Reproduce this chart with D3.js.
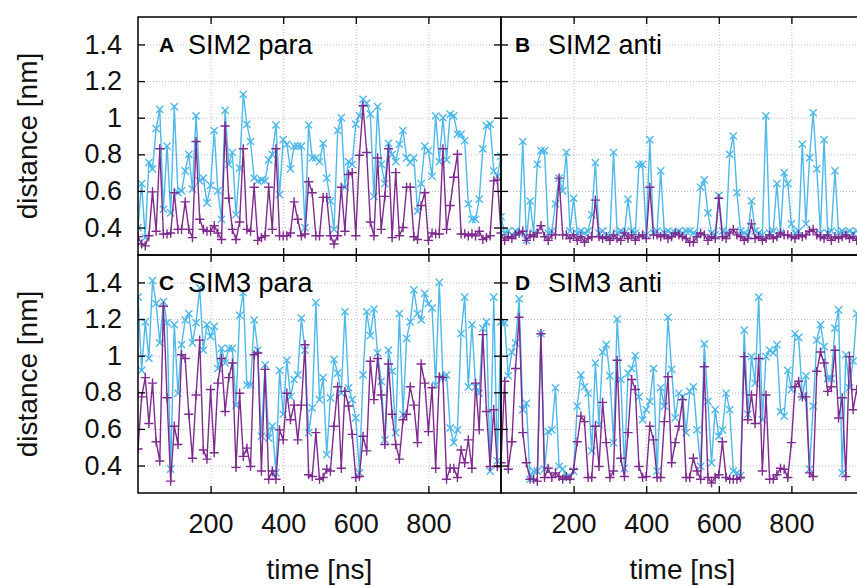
<!DOCTYPE html>
<html>
<head>
<meta charset="utf-8">
<script src="https://cdn.jsdelivr.net/npm/d3@7"></script>
<style>
body { margin: 0; background: #fff; }
text { font-family: "Liberation Sans", Arial, sans-serif; }
</style>
</head>
<body>
<script>
// time axis of every run [ns]
const time = [
  0, 10, 20, 30, 40, 50, 60, 70, 80, 90,
  100, 110, 120, 130, 140, 150, 160, 170, 180, 190,
  200, 210, 220, 230, 240, 250, 260, 270, 280, 290,
  300, 310, 320, 330, 340, 350, 360, 370, 380, 390,
  400, 410, 420, 430, 440, 450, 460, 470, 480, 490,
  500, 510, 520, 530, 540, 550, 560, 570, 580, 590,
  600, 610, 620, 630, 640, 650, 660, 670, 680, 690,
  700, 710, 720, 730, 740, 750, 760, 770, 780, 790,
  800, 810, 820, 830, 840, 850, 860, 870, 880, 890,
  900, 910, 920, 930, 940, 950, 960, 970, 980, 990,
  1000
];

// A: SIM2 para
const sim2ParaPlus = [
  0.35, 0.31, 0.30, 0.355, 0.595, 0.38, 0.83, 0.365, 0.365, 0.37,
  0.59, 0.39, 0.39, 0.54, 0.39, 0.345, 0.87, 0.445, 0.39, 0.38,
  0.38, 0.41, 0.37, 0.335, 0.955, 0.56, 0.39, 0.335, 0.43, 0.83,
  0.39, 0.38, 0.62, 0.33, 0.345, 0.355, 0.62, 0.39, 0.83, 0.355,
  0.355, 0.355, 0.37, 0.54, 0.445, 0.355, 0.365, 0.65, 0.59, 0.355,
  0.355, 0.565, 0.565, 0.355, 0.31, 0.355, 0.62, 0.38, 0.69, 0.70,
  0.355, 0.795, 1.065, 0.81, 0.43, 0.355, 0.78, 0.39, 0.57, 0.83,
  0.345, 0.70, 0.355, 0.40, 0.62, 0.62, 0.35, 0.335, 0.52, 0.59,
  0.33, 0.37, 0.365, 0.365, 0.83, 0.39, 0.52, 0.675, 0.80, 0.365,
  0.365, 0.355, 0.365, 0.355, 0.38, 0.335, 0.345, 0.355, 0.655, 0.66,
  0.37
];
const sim2ParaCross = [
  0.40, 0.64, 0.345, 0.755, 0.72, 0.94, 1.045, 0.50, 0.845, 0.48,
  1.06, 0.59, 0.60, 0.71, 0.80, 0.61, 1.01, 0.655, 0.67, 0.535,
  0.63, 0.93, 0.60, 0.445, 1.04, 0.745, 0.81, 0.47, 0.725, 1.127,
  0.964, 0.87, 0.67, 0.655, 0.66, 0.655, 0.77, 0.80, 0.96, 0.58,
  0.88, 0.855, 0.72, 0.845, 0.845, 0.845, 0.40, 0.96, 0.78, 0.78,
  0.76, 0.86, 0.67, 0.545, 0.39, 0.93, 1.0, 0.62, 0.76, 0.745,
  0.965, 1.01, 1.10, 1.08, 1.02, 0.57, 1.06, 0.745, 0.64, 0.86,
  0.80, 0.76, 0.855, 0.93, 0.78, 0.755, 0.78, 0.49, 0.64, 0.845,
  0.82, 0.68, 1.01, 0.76, 1.0, 0.77, 1.02, 1.01, 0.91, 0.91,
  0.875, 0.53, 0.445, 0.445, 0.555, 0.83, 0.955, 0.965, 0.71, 0.68,
  0.79
];

// B: SIM2 anti
const sim2AntiPlus = [
  0.36, 0.33, 0.35, 0.34, 0.36, 0.37, 0.38, 0.33, 0.36, 0.35,
  0.37, 0.41, 0.35, 0.33, 0.36, 0.36, 0.67, 0.36, 0.36, 0.34,
  0.36, 0.33, 0.35, 0.32, 0.34, 0.35, 0.55, 0.35, 0.34, 0.35,
  0.33, 0.36, 0.34, 0.33, 0.37, 0.34, 0.36, 0.33, 0.35, 0.36,
  0.34, 0.62, 0.36, 0.36, 0.35, 0.36, 0.34, 0.35, 0.37, 0.36,
  0.35, 0.34, 0.32, 0.32, 0.35, 0.37, 0.36, 0.33, 0.35, 0.34,
  0.56, 0.35, 0.34, 0.37, 0.39, 0.36, 0.35, 0.33, 0.34, 0.42,
  0.34, 0.35, 0.33, 0.34, 0.36, 0.34, 0.35, 0.37, 0.36, 0.36,
  0.35, 0.34, 0.36, 0.35, 0.36, 0.38, 0.39, 0.36, 0.35, 0.34,
  0.36, 0.33, 0.35, 0.34, 0.35, 0.36, 0.34, 0.35, 0.33
];
const sim2AntiCross = [
  0.46, 0.37, 0.38, 0.36, 0.38, 0.37, 0.87, 0.33, 0.545, 0.37,
  0.745, 0.82, 0.82, 0.37, 0.38, 0.53, 0.67, 0.60, 0.81, 0.38,
  0.56, 0.37, 0.38, 0.37, 0.38, 0.47, 0.755, 0.37, 0.38, 0.36,
  0.35, 0.81, 0.37, 0.38, 0.37, 0.555, 0.38, 0.37, 0.745, 0.745,
  0.36, 0.88, 0.37, 0.38, 0.71, 0.37, 0.38, 0.37, 0.37, 0.38,
  0.37, 0.38, 0.38, 0.37, 0.36, 0.62, 0.66, 0.48, 0.37, 0.36,
  0.575, 0.38, 0.37, 0.80, 0.90, 0.59, 0.38, 0.37, 0.36, 0.545,
  0.38, 0.37, 0.36, 1.01, 0.37, 0.38, 0.64, 0.37, 0.70, 0.64,
  0.42, 0.37, 0.38, 0.855, 0.42, 0.78, 1.027, 0.72, 0.37, 0.88,
  0.37, 0.38, 0.71, 0.37, 0.38, 0.37, 0.38, 0.37, 0.38
];

// C: SIM3 para
const sim3ParaPlus = [
  0.49, 0.775, 0.88, 0.63, 0.85, 0.53, 0.425, 1.27, 0.77, 0.315,
  0.615, 0.515, 1.005, 0.985, 0.68, 0.44, 0.785, 1.085, 0.485, 0.435,
  0.815, 0.47, 0.85, 0.985, 0.695, 0.88, 0.96, 0.39, 0.795, 0.45,
  0.495, 0.395, 1.005, 1.015, 0.37, 0.925, 0.325, 0.37, 0.325, 0.595,
  0.54, 0.795, 0.65, 0.73, 0.54, 0.73, 1.06, 0.35, 0.34, 0.58,
  0.325, 0.335, 0.38, 0.37, 0.615, 0.83, 0.385, 0.805, 0.725, 0.57,
  0.335, 0.34, 0.56, 0.48, 0.97, 0.76, 0.985, 0.785, 0.515, 0.955,
  0.68, 0.515, 0.435, 0.65, 0.68, 0.83, 0.73, 0.525, 0.955, 0.85,
  0.585, 0.825, 0.385, 0.885, 0.88, 0.325, 0.385, 0.385, 0.335, 0.485,
  0.415, 0.54, 0.385, 0.85, 0.595, 1.115, 0.695, 0.395, 0.705, 0.395,
  0.395
];
const sim3ParaCross = [
  1.32, 0.92, 1.185, 0.985, 1.41, 1.285, 1.07, 1.295, 1.18, 0.38,
  1.17, 0.795, 1.06, 1.195, 1.23, 1.07, 1.18, 1.37, 1.03, 1.17,
  1.105, 1.16, 0.93, 1.04, 0.96, 1.04, 1.04, 0.73, 1.22, 1.345,
  0.84, 0.84, 1.195, 1.03, 0.56, 0.95, 0.55, 0.615, 0.36, 0.92,
  0.68, 0.975, 0.775, 0.87, 0.895, 1.205, 1.03, 0.58, 0.715, 1.29,
  0.76, 0.88, 0.46, 0.77, 0.98, 0.905, 0.795, 1.24, 0.825, 0.76,
  0.66, 0.36, 0.895, 1.24, 1.11, 1.255, 1.015, 0.86, 0.54, 1.03,
  0.915, 0.58, 1.23, 0.68, 1.095, 1.185, 1.36, 1.23, 1.195, 1.34,
  1.285, 1.26, 0.84, 1.40, 0.88, 0.895, 0.605, 0.525, 0.595, 1.12,
  1.32, 0.83, 1.17, 0.83, 0.795, 1.15, 1.185, 0.37, 1.32, 0.425,
  1.185
];

// D: SIM3 anti
const sim3AntiPlus = [
  0.415, 0.86, 0.38, 0.53, 0.93, 1.21, 0.58, 0.415, 0.325, 0.325,
  0.315, 1.12, 0.335, 0.385, 0.335, 0.36, 0.34, 0.325, 0.34, 0.325,
  0.38, 0.53, 0.67, 0.64, 0.335, 0.335, 0.615, 0.395, 0.745, 0.525,
  0.335, 0.37, 0.975, 0.44, 0.34, 0.58, 0.87, 0.815, 0.395, 0.335,
  0.34, 0.615, 0.54, 0.335, 0.335, 0.64, 0.885, 0.415, 0.525, 0.615,
  0.76, 0.335, 0.335, 0.44, 0.37, 0.325, 0.94, 0.335, 0.305, 0.335,
  0.35, 0.53, 0.335, 0.325, 0.325, 0.325, 0.335, 0.995, 0.65, 0.785,
  0.63, 0.985, 0.37, 0.785, 0.325, 0.325, 0.35, 0.385, 0.38, 0.335,
  0.525, 0.83, 0.86, 0.775, 0.775, 0.36, 0.34, 0.915, 1.02, 0.96,
  0.805, 0.83, 1.03, 0.66, 0.77, 0.34, 0.995, 0.705, 0.815
];
const sim3AntiCross = [
  1.18, 1.18, 0.89, 1.02, 1.07, 1.31, 0.705, 0.74, 0.325, 0.37,
  0.37, 1.12, 0.38, 0.585, 0.595, 0.825, 0.395, 0.38, 0.335, 0.34,
  0.37, 0.725, 0.895, 0.83, 0.795, 0.48, 0.96, 0.625, 1.02, 1.06,
  0.89, 0.525, 1.20, 0.87, 0.385, 0.905, 0.93, 1.0, 0.775, 0.65,
  0.705, 0.75, 0.93, 0.37, 0.825, 0.725, 1.21, 0.925, 0.66, 0.795,
  0.775, 0.58, 0.805, 0.83, 0.595, 0.395, 1.065, 0.75, 0.415, 0.705,
  0.56, 0.595, 0.795, 0.705, 0.37, 0.36, 0.345, 1.14, 0.68, 0.995,
  0.85, 1.32, 0.65, 0.995, 1.03, 1.015, 1.06, 0.695, 0.67, 0.92,
  0.815, 1.12, 1.10, 0.775, 0.89, 0.38, 0.725, 1.085, 1.17, 1.05,
  0.875, 0.875, 1.15, 1.25, 0.36, 1.005, 0.825, 0.97, 1.23
];

const xTicks = [200, 400, 600, 800];
const yTicks = [0.4, 0.6, 0.8, 1, 1.2, 1.4];

const panels = [
  { letter: "A", title: "SIM2 para", col: 0, row: 0, plus: sim2ParaPlus, cross: sim2ParaCross },
  { letter: "B", title: "SIM2 anti", col: 1, row: 0, plus: sim2AntiPlus, cross: sim2AntiCross },
  { letter: "C", title: "SIM3 para", col: 0, row: 1, plus: sim3ParaPlus, cross: sim3ParaCross },
  { letter: "D", title: "SIM3 anti", col: 1, row: 1, plus: sim3AntiPlus, cross: sim3AntiCross }
];

const width = 857;
const height = 586;
const plotLeft = 138, plotTop = 17, pw = 363, ph = 238;
const purple = "#7e2a8e";
const cyan = "#4db8ea";
const font = "'Liberation Sans', Arial, sans-serif";

const svg = d3.select("body").append("svg")
  .attr("width", width)
  .attr("height", height);

const defs = svg.append("defs");

panels.forEach((p, k) => {
  const x0 = plotLeft + p.col * pw;
  const y0 = plotTop + p.row * ph;
  const x = d3.scaleLinear().domain([0, 1000]).range([x0, x0 + pw]);
  const y = d3.scaleLinear().domain([0.25, 1.55]).range([y0 + ph, y0]);

  defs.append("clipPath").attr("id", "clip" + k)
    .append("rect")
    .attr("x", x0).attr("y", y0).attr("width", pw).attr("height", ph);

  // grid
  const grid = svg.append("g").attr("class", "grid");
  grid.append("g")
    .attr("transform", `translate(0,${y0 + ph})`)
    .call(d3.axisBottom(x).tickValues(xTicks).tickSize(-ph).tickFormat(""));
  grid.append("g")
    .attr("transform", `translate(${x0},0)`)
    .call(d3.axisLeft(y).tickValues(yTicks).tickSize(-pw).tickFormat(""));
  grid.selectAll(".domain").remove();
  grid.selectAll("line")
    .attr("stroke", "#bdbdbd")
    .attr("stroke-width", 1)
    .attr("stroke-dasharray", "1,2");

  const plot = svg.append("g").attr("clip-path", `url(#clip${k})`);
  const line = d3.line().x((d, i) => x(time[i])).y((d) => y(d));

  const series = [
    { values: p.cross, color: cyan, symbol: "x" },
    { values: p.plus, color: purple, symbol: "+" }
  ];

  series.forEach((s) => {
    plot.append("path")
      .datum(s.values)
      .attr("fill", "none")
      .attr("stroke", s.color)
      .attr("stroke-width", 1.4)
      .attr("d", line);

    const r = s.symbol === "x" ? 3.6 : 4.6;
    const pathFor = s.symbol === "x"
      ? `M${-r},${-r}L${r},${r}M${-r},${r}L${r},${-r}`
      : `M${-r},0L${r},0M0,${-r}L0,${r}`;

    plot.append("g")
      .selectAll("path")
      .data(s.values)
      .enter().append("path")
      .attr("transform", (d, i) => `translate(${x(time[i])},${y(d)})`)
      .attr("d", pathFor)
      .attr("stroke", s.color)
      .attr("stroke-width", 1.4)
      .attr("fill", "none");
  });

  // inward ticks on all four sides
  const ticks = svg.append("g").attr("class", "ticks");
  ticks.append("g")
    .attr("transform", `translate(0,${y0 + ph})`)
    .call(d3.axisBottom(x).tickValues(xTicks).tickSize(-7).tickPadding(21)
      .tickFormat(p.row === 1 ? d3.format("d") : ""));
  ticks.append("g")
    .attr("transform", `translate(0,${y0})`)
    .call(d3.axisTop(x).tickValues(xTicks).tickSize(-7).tickFormat(""));
  ticks.append("g")
    .attr("transform", `translate(${x0},0)`)
    .call(d3.axisLeft(y).tickValues(yTicks).tickSize(-7).tickPadding(16)
      .tickFormat(p.col === 0 ? (d) => String(d) : ""));
  ticks.append("g")
    .attr("transform", `translate(${x0 + pw},0)`)
    .call(d3.axisRight(y).tickValues(yTicks).tickSize(-7).tickFormat(""));
  ticks.selectAll(".domain").remove();
  ticks.selectAll("line").attr("stroke", "#000").attr("stroke-width", 1.3);
  ticks.selectAll("text")
    .attr("fill", "#111")
    .style("font-size", "27px")
    .style("font-family", font);

  // frame
  svg.append("rect")
    .attr("x", x0).attr("y", y0)
    .attr("width", pw).attr("height", ph)
    .attr("fill", "none")
    .attr("stroke", "#000")
    .attr("stroke-width", 1.5);

  // panel label
  svg.append("text")
    .attr("x", x0 + (p.col === 0 ? 21 : 14)).attr("y", y0 + 35)
    .style("font-size", "21px")
    .style("font-weight", "bold")
    .attr("fill", "#000")
    .text(p.letter);
  svg.append("text")
    .attr("x", x0 + (p.col === 0 ? 50 : 47)).attr("y", y0 + 37)
    .style("font-size", "27px")
    .attr("fill", "#000")
    .text(p.title);

  // axis titles
  if (p.col === 0) {
    svg.append("text")
      .attr("transform", `translate(37,${y0 + ph / 2}) rotate(-90)`)
      .attr("text-anchor", "middle")
      .style("font-size", "28px")
      .attr("fill", "#111")
      .text("distance [nm]");
  }
  if (p.row === 1) {
    svg.append("text")
      .attr("x", x0 + pw / 2).attr("y", 579)
      .attr("text-anchor", "middle")
      .style("font-size", "28px")
      .attr("fill", "#111")
      .text("time [ns]");
  }
});
</script>
</body>
</html>
